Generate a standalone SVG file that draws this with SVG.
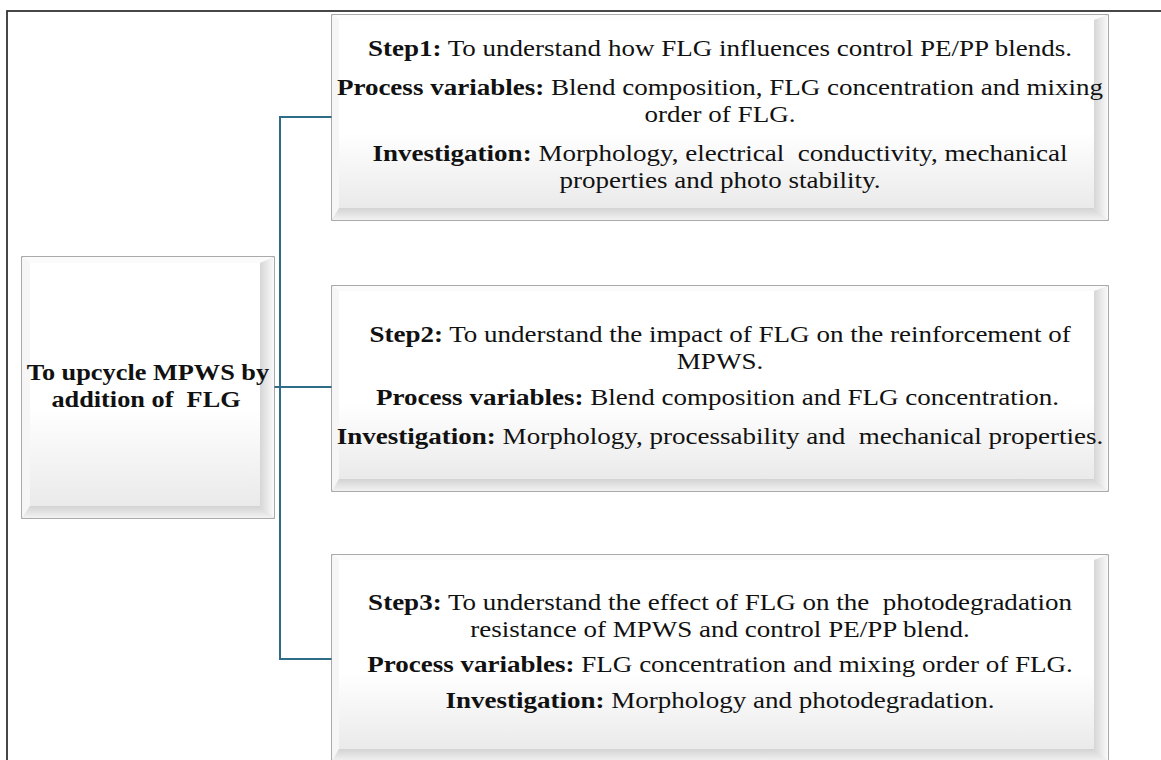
<svg xmlns="http://www.w3.org/2000/svg" width="1161" height="760" viewBox="0 0 1161 760">
<style>
.txt{font-family:"Liberation Serif","Times New Roman",serif;font-size:23.5px;fill:#111;text-anchor:middle}
.b{font-weight:bold}
.ttl{font-family:"Liberation Serif","Times New Roman",serif;font-size:23.5px;font-weight:bold;fill:#111;text-anchor:middle}
.edge{stroke:#8f8f8f;stroke-width:1.5;fill:#f3f3f3}
.bt{fill:#fbfbfb}
.bl{fill:#f6f6f6}
.br{fill:url(#gR)}
.bb{fill:url(#gB)}
.face{fill:url(#gF)}
.conn{fill:none;stroke:#2f6c87;stroke-width:2}
</style>
<defs>
<linearGradient id="gF" x1="0" y1="0" x2="0" y2="1">
<stop offset="0" stop-color="#ffffff"/>
<stop offset="0.6" stop-color="#ffffff"/>
<stop offset="1" stop-color="#eaeaea"/>
</linearGradient>
<linearGradient id="gR" x1="0" y1="0" x2="1" y2="0">
<stop offset="0" stop-color="#d6d6d6"/>
<stop offset="1" stop-color="#fafafa"/>
</linearGradient>
<linearGradient id="gB" x1="0" y1="0" x2="0" y2="1">
<stop offset="0" stop-color="#d3d3d3"/>
<stop offset="1" stop-color="#f2f2f2"/>
</linearGradient>
</defs>
<rect x="7" y="11" width="1170" height="770" fill="#fff" stroke="#333" stroke-width="1.8"/>

<g id="connectors">
<path class="conn" d="M332,117 H280 V659 H332"/>
<path class="conn" d="M274,387 H332"/>
</g>

<g id="goal">
<rect class="edge" x="22" y="257" width="252" height="261"/>
<polygon class="bt" points="22,257 274,257 260,263 30,263"/>
<polygon class="bl" points="22,257 30,263 30,506 22,518"/>
<polygon class="br" points="260,263 274,257 274,518 260,506"/>
<polygon class="bb" points="30,506 260,506 274,518 22,518"/>
<rect class="face" x="30" y="263" width="230" height="243"/>
<g transform="scale(1.12 1)">
<text class="ttl" x="132.1" y="380">To upcycle MPWS by</text>
<text class="ttl" x="130.4" y="407" xml:space="preserve">addition of  FLG</text>
</g>
</g>

<g id="step1">
<rect class="edge" x="332" y="15" width="776" height="205"/>
<polygon class="bt" points="332,15 1108,15 1094,20 339,20"/>
<polygon class="bl" points="332,15 339,20 339,208 332,220"/>
<polygon class="br" points="1094,20 1108,15 1108,220 1094,208"/>
<polygon class="bb" points="339,208 1094,208 1108,220 332,220"/>
<rect class="face" x="339" y="20" width="755" height="188"/>
<g transform="scale(1.15 1)">
<text class="txt" x="626.1" y="56"><tspan class="b">Step1:</tspan> To understand how FLG influences control PE/PP blends.</text>
<text class="txt" x="626.1" y="95"><tspan class="b">Process variables:</tspan> Blend composition, FLG concentration and mixing</text>
<text class="txt" x="626.1" y="122">order of FLG.</text>
<text class="txt" x="626.1" y="161" xml:space="preserve"><tspan class="b">Investigation:</tspan> Morphology, electrical  conductivity, mechanical</text>
<text class="txt" x="626.1" y="188">properties and photo stability.</text>
</g>
</g>

<g id="step2">
<rect class="edge" x="332" y="286" width="776" height="205"/>
<polygon class="bt" points="332,286 1108,286 1094,291 339,291"/>
<polygon class="bl" points="332,286 339,291 339,479 332,491"/>
<polygon class="br" points="1094,291 1108,286 1108,491 1094,479"/>
<polygon class="bb" points="339,479 1094,479 1108,491 332,491"/>
<rect class="face" x="339" y="291" width="755" height="188"/>
<g transform="scale(1.15 1)">
<text class="txt" x="626.1" y="342"><tspan class="b">Step2:</tspan> To understand the impact of FLG on the reinforcement of</text>
<text class="txt" x="626.1" y="369">MPWS.</text>
<text class="txt" x="624" y="405"><tspan class="b">Process variables:</tspan> Blend composition and FLG concentration.</text>
<text class="txt" x="626.1" y="444" xml:space="preserve"><tspan class="b">Investigation:</tspan> Morphology, processability and  mechanical properties.</text>
</g>
</g>

<g id="step3">
<rect class="edge" x="332" y="555" width="776" height="206"/>
<polygon class="bt" points="332,555 1108,555 1094,560 339,560"/>
<polygon class="bl" points="332,555 339,560 339,749 332,761"/>
<polygon class="br" points="1094,560 1108,555 1108,761 1094,749"/>
<polygon class="bb" points="339,749 1094,749 1108,761 332,761"/>
<rect class="face" x="339" y="560" width="755" height="189"/>
<g transform="scale(1.15 1)">
<text class="txt" x="626.1" y="610" xml:space="preserve"><tspan class="b">Step3:</tspan> To understand the effect of FLG on the  photodegradation</text>
<text class="txt" x="626.1" y="637">resistance of MPWS and control PE/PP blend.</text>
<text class="txt" x="626.1" y="672"><tspan class="b">Process variables:</tspan> FLG concentration and mixing order of FLG.</text>
<text class="txt" x="626.1" y="708"><tspan class="b">Investigation:</tspan> Morphology and photodegradation.</text>
</g>
</g>
</svg>
